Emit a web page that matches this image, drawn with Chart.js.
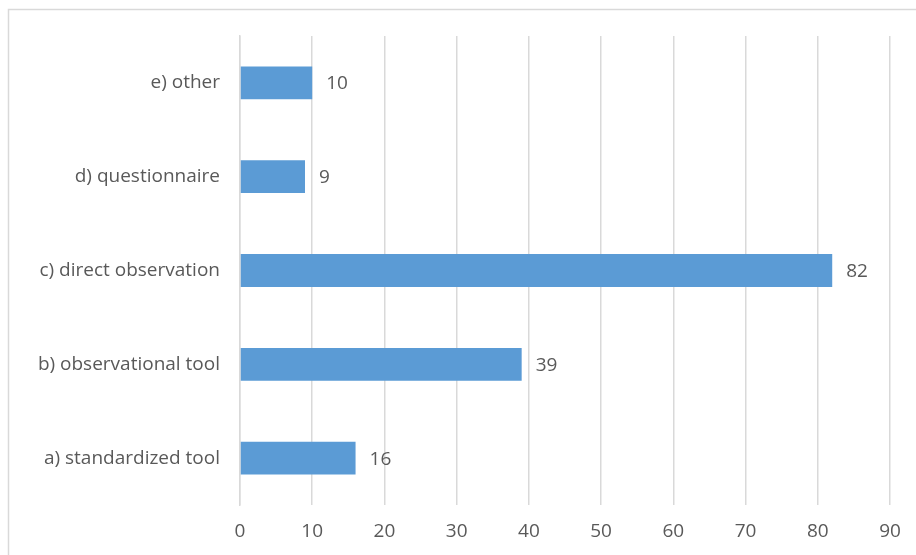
<!DOCTYPE html>
<html>
<head>
<meta charset="utf-8">
<script src="https://cdn.jsdelivr.net/npm/chart.js@4"></script>
<style>
  html, body { margin: 0; padding: 0; background: #fff; }
  #wrap { width: 916px; height: 555px; }
</style>
</head>
<body>
<div id="wrap"><canvas id="chart" width="916" height="555"></canvas></div>
<script>
const categories = ['e) other', 'd) questionnaire', 'c) direct observation', 'b) observational tool', 'a) standardized tool'];
const counts = [10, 9, 82, 39, 16];
const xTicks = [0, 10, 20, 30, 40, 50, 60, 70, 80, 90];

const textColor = '#595959';
const gridColor = '#d9d9d9';
const fontFamily = '"Open Sans", "Noto Sans", sans-serif';
const fontSize = 19;

// рамка і білий фон
const framePlugin = {
    id: 'frame',
    beforeDraw(chart) {
        const ctx = chart.ctx;
        ctx.save();
        ctx.fillStyle = '#fff';
        ctx.fillRect(0, 0, chart.width, chart.height);
        ctx.strokeStyle = gridColor;
        ctx.lineWidth = 1.5;
        ctx.strokeRect(8.5, 9.5, chart.width + 20, chart.height + 20);
        ctx.restore();
    }
};

// підписи значень праворуч від смуг
const valueLabels = {
    id: 'valueLabels',
    afterDatasetsDraw(chart) {
        const ctx = chart.ctx;
        const meta = chart.getDatasetMeta(0);
        ctx.save();
        ctx.fillStyle = textColor;
        ctx.font = fontSize + 'px ' + fontFamily;
        ctx.textAlign = 'left';
        ctx.textBaseline = 'middle';
        meta.data.forEach((bar, i) => {
            ctx.fillText(String(counts[i]), bar.x + 14, bar.y + 1);
        });
        ctx.restore();
    }
};

new Chart(document.getElementById('chart').getContext('2d'), {
    type: 'bar',
    data: {
        labels: categories,
        datasets: [{
            data: counts,
            backgroundColor: '#5b9bd5',
            borderWidth: 0,
            barPercentage: 0.35,
            categoryPercentage: 1
        }]
    },
    options: {
        indexAxis: 'y',
        responsive: false,
        animation: false,
        layout: { padding: { top: 36, right: 26, left: 0, bottom: 0 } },
        plugins: {
            legend: { display: false },
            tooltip: { enabled: false }
        },
        scales: {
            x: {
                min: 0,
                max: 90,
                afterBuildTicks(axis) { axis.ticks = xTicks.map(v => ({ value: v })); },
                afterFit(axis) { axis.height = 50; },
                grid: { color: gridColor, lineWidth: 1.5, drawTicks: false },
                border: { display: false },
                ticks: { color: textColor, font: { family: fontFamily, size: fontSize }, padding: 15 }
            },
            y: {
                afterFit(axis) { axis.width = 240; },
                grid: { display: false, drawTicks: false },
                border: { display: true, color: gridColor, width: 1.5 },
                ticks: { color: textColor, font: { family: fontFamily, size: fontSize }, padding: 20 }
            }
        }
    },
    plugins: [framePlugin, valueLabels]
});
</script>
</body>
</html>
